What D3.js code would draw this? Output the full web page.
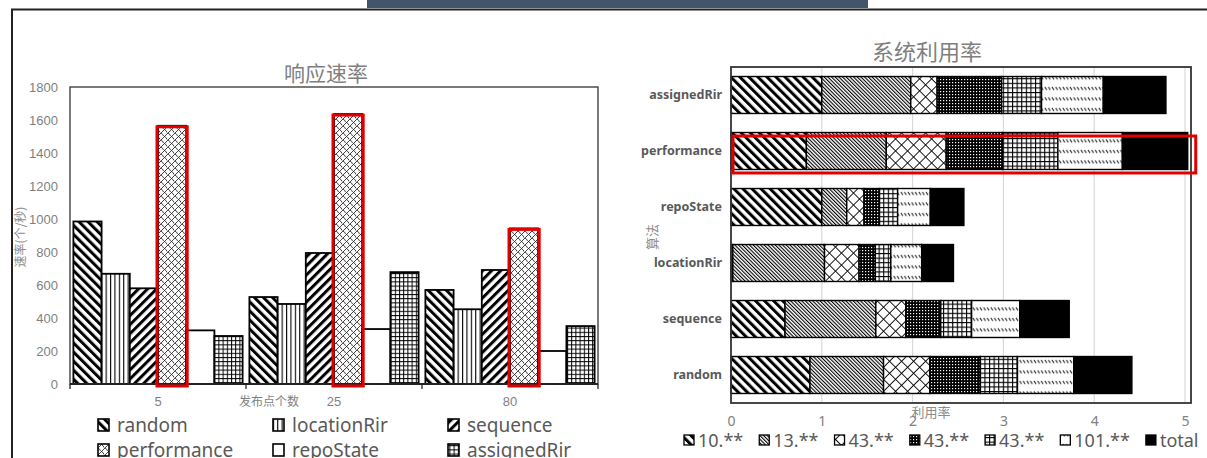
<!DOCTYPE html>
<html lang="zh">
<head>
<meta charset="UTF-8">
<title>响应速率 / 系统利用率</title>
<script src="https://d3js.org/d3.v7.min.js"></script>
<style>
  body { margin: 0; background: #fff; }
  svg { display: block; }
  text { font-family: "Noto Sans", "Noto Sans CJK SC", sans-serif; }
  .cjk { font-family: "Noto Sans CJK SC", sans-serif; }
</style>
</head>
<body>
<svg id="chart" width="1207" height="458"></svg>
<script>
// ---- left chart: 响应速率 ----
const rateGroups = ["5", "25", "80"];
const rateAlgos = ["random", "locationRir", "sequence", "performance", "repoState", "assignedRir"];
const randomRate = [985, 527, 570];
const locationRirRate = [668, 485, 453];
const sequenceRate = [580, 794, 691];
const performanceRate = [1565, 1636, 943];
const repoStateRate = [325, 333, 200];
const assignedRirRate = [291, 678, 351];
const rateTicks = [0, 200, 400, 600, 800, 1000, 1200, 1400, 1600, 1800];

// ---- right chart: 系统利用率 ----
const utilAlgos = ["assignedRir", "performance", "repoState", "locationRir", "sequence", "random"];
const utilSeries = ["10.**", "13.**", "43.**", "43.**", "43.**", "101.**", "total"];
const util10 = [1.00, 0.83, 1.00, 0.02, 0.595, 0.87];
const util13 = [0.98, 0.88, 0.275, 1.01, 1.00, 0.81];
const util43a = [0.29, 0.66, 0.19, 0.38, 0.33, 0.51];
const util43b = [0.71, 0.62, 0.17, 0.18, 0.385, 0.555];
const util43c = [0.44, 0.61, 0.20, 0.17, 0.34, 0.41];
const util101 = [0.68, 0.71, 0.36, 0.34, 0.53, 0.62];
const utilTotal = [0.69, 0.72, 0.37, 0.35, 0.545, 0.64];
const utilTicks = [0, 1, 2, 3, 4, 5];

const svg = d3.select("#chart");
const defs = svg.append("defs");

function stripes(id, angle, period, w) {
  const p = defs.append("pattern").attr("id", id)
    .attr("patternUnits", "userSpaceOnUse")
    .attr("width", period).attr("height", period)
    .attr("patternTransform", `rotate(${angle})`);
  p.append("rect").attr("width", period).attr("height", period).attr("fill", "#fff");
  p.append("rect").attr("width", w).attr("height", period).attr("fill", "#000");
}
function grid(id, period, w, angle) {
  const p = defs.append("pattern").attr("id", id)
    .attr("patternUnits", "userSpaceOnUse")
    .attr("width", period).attr("height", period)
    .attr("patternTransform", `rotate(${angle || 0})`);
  p.append("rect").attr("width", period).attr("height", period).attr("fill", "#fff");
  p.append("rect").attr("width", w).attr("height", period).attr("fill", "#000");
  p.append("rect").attr("width", period).attr("height", w).attr("fill", "#000");
}
function vlines(id, period, w) {
  const p = defs.append("pattern").attr("id", id)
    .attr("patternUnits", "userSpaceOnUse")
    .attr("width", period).attr("height", period);
  p.append("rect").attr("width", period).attr("height", period).attr("fill", "#fff");
  p.append("rect").attr("width", w).attr("height", period).attr("fill", "#000");
}

// left patterns
stripes("p-random", -45, 6.4, 3);
vlines("p-location", 4.4, 1.1);
stripes("p-sequence", 45, 6.4, 3);
(function () {
  const p = defs.append("pattern").attr("id", "p-perf")
    .attr("patternUnits", "userSpaceOnUse").attr("width", 7).attr("height", 7);
  p.append("rect").attr("width", 7).attr("height", 7).attr("fill", "#fff");
  p.append("path").attr("d", "M0,7 L7,0 M0,0 Q2,1 2.5,3 M3.5,3.5 Q5.5,4.5 6,6.5")
    .attr("stroke", "#111").attr("stroke-width", 0.8).attr("fill", "none");
})();
defs.append("pattern").attr("id", "p-repo").attr("patternUnits", "userSpaceOnUse")
  .attr("width", 4).attr("height", 4)
  .append("rect").attr("width", 4).attr("height", 4).attr("fill", "#fff");
grid("p-assigned", 4.2, 1);

// right patterns
stripes("u-10", -45, 6.4, 3);
stripes("u-13", -45, 2.6, 1.1);
grid("u-43a", 8.5, 0.9, 45);
(function () {
  const p = defs.append("pattern").attr("id", "u-43b")
    .attr("patternUnits", "userSpaceOnUse").attr("width", 3).attr("height", 3);
  p.append("rect").attr("width", 3).attr("height", 3).attr("fill", "#000");
  p.append("rect").attr("x", 1).attr("y", 1).attr("width", 1.2).attr("height", 1.2).attr("fill", "#fff");
})();
grid("u-43c", 4.6, 1.1);
(function () {
  const p = defs.append("pattern").attr("id", "u-101")
    .attr("patternUnits", "userSpaceOnUse").attr("width", 3.6).attr("height", 10.5);
  p.append("rect").attr("width", 3.6).attr("height", 10.5).attr("fill", "#fff");
  p.append("path").attr("d", "M0.8,3 L2.8,6").attr("stroke", "#111").attr("stroke-width", 1);
})();
defs.append("pattern").attr("id", "u-total").attr("patternUnits", "userSpaceOnUse")
  .attr("width", 4).attr("height", 4)
  .append("rect").attr("width", 4).attr("height", 4).attr("fill", "#000");

const ratePatterns = ["p-random", "p-location", "p-sequence", "p-perf", "p-repo", "p-assigned"];
const utilPatterns = ["u-10", "u-13", "u-43a", "u-43b", "u-43c", "u-101", "u-total"];

// frame and top band
svg.append("path").attr("d", "M12,458 V9.5 H1207")
  .attr("fill", "none").attr("stroke", "#222").attr("stroke-width", 2);
svg.append("rect").attr("x", 367).attr("y", 0).attr("width", 501).attr("height", 8)
  .attr("fill", "#44546a");

// ================= left chart =================
const L = { left: 70, right: 598, top: 87, bottom: 384 };
const rateSeries = [randomRate, locationRirRate, sequenceRate, performanceRate, repoStateRate, assignedRirRate];

const x0 = d3.scaleBand().domain(rateGroups).range([L.left, L.right]);
const x1 = d3.scaleBand().domain(rateAlgos).range([0, x0.bandwidth()]).paddingOuter(0.12);
const y = d3.scaleLinear().domain([0, 1800]).range([L.bottom, L.top]);

svg.append("text").attr("class", "cjk")
  .attr("x", 326).attr("y", 74).attr("dy", "0.35em")
  .attr("text-anchor", "middle").attr("font-size", 21).attr("fill", "#7f7f7f")
  .text("响应速率");

svg.append("rect")
  .attr("x", L.left).attr("y", L.top)
  .attr("width", L.right - L.left).attr("height", L.bottom - L.top)
  .attr("fill", "none").attr("stroke", "#333").attr("stroke-width", 1.3);

const yAxis = svg.append("g")
  .attr("transform", `translate(${L.left},0)`)
  .call(d3.axisLeft(y).tickValues(rateTicks).tickFormat(d3.format("d")).tickSize(0).tickPadding(12));
yAxis.select(".domain").remove();
yAxis.selectAll("text").attr("font-size", 13).attr("fill", "#7f7f7f")
  .style("font-family", "Liberation Sans, Arial, sans-serif");

const rateData = [];
rateGroups.forEach((g, i) => {
  rateAlgos.forEach((a, k) => {
    rateData.push({ group: g, algo: a, k: k, value: rateSeries[k][i] });
  });
});

svg.append("g").selectAll("rect")
  .data(rateData)
  .enter()
  .append("rect")
  .attr("x", d => x0(d.group) + x1(d.algo))
  .attr("y", d => y(d.value))
  .attr("width", x1.bandwidth())
  .attr("height", d => y(0) - y(d.value))
  .attr("fill", d => `url(#${ratePatterns[d.k]})`)
  .attr("stroke", "#000")
  .attr("stroke-width", 1.8);

// x axis
svg.append("line")
  .attr("x1", L.left).attr("x2", L.right).attr("y1", L.bottom).attr("y2", L.bottom)
  .attr("stroke", "#222").attr("stroke-width", 1.8);
const bounds = rateGroups.map(g => x0(g)).concat([L.right]);
svg.append("g").selectAll("line")
  .data(bounds)
  .enter()
  .append("line")
  .attr("x1", d => d).attr("x2", d => d)
  .attr("y1", L.bottom).attr("y2", L.bottom + 5)
  .attr("stroke", "#222").attr("stroke-width", 1.3);
const xAxis = svg.append("g")
  .attr("transform", `translate(0,${L.bottom})`)
  .call(d3.axisBottom(x0).tickSize(0).tickPadding(13));
xAxis.select(".domain").remove();
xAxis.selectAll("text").attr("font-size", 13).attr("fill", "#7f7f7f")
  .style("font-family", "Liberation Sans, Arial, sans-serif");

svg.append("text").attr("class", "cjk")
  .attr("x", 269).attr("y", 402).attr("dy", "0.35em")
  .attr("text-anchor", "middle").attr("font-size", 12).attr("fill", "#7f7f7f")
  .text("发布点个数");
svg.append("text").attr("class", "cjk")
  .attr("transform", "translate(21,237) rotate(-90)").attr("dy", "0.35em")
  .attr("text-anchor", "middle").attr("font-size", 12).attr("fill", "#8c8c8c")
  .text("速率(个/秒)");

// red highlight around performance bars
svg.append("g").selectAll("rect")
  .data(rateData.filter(d => d.algo === "performance"))
  .enter()
  .append("rect")
  .attr("x", d => x0(d.group) + x1(d.algo) - 1)
  .attr("y", d => y(d.value) + 1)
  .attr("width", x1.bandwidth() + 2)
  .attr("height", d => y(0) - y(d.value) + 1)
  .attr("fill", "none")
  .attr("stroke", "#e00000")
  .attr("stroke-width", 3);

// left legend (second row is cut by the bottom edge, as in the source)
const legL = svg.append("g");
rateAlgos.forEach((a, k) => {
  const col = k % 3, row = Math.floor(k / 3);
  const gx = 98 + col * 175, gy = 425 + row * 25;
  legL.append("rect")
    .attr("x", gx).attr("y", gy - 6).attr("width", 11).attr("height", 12)
    .attr("fill", `url(#${ratePatterns[k]})`)
    .attr("stroke", "#000").attr("stroke-width", 1.6);
  legL.append("text")
    .attr("x", gx + 19).attr("y", gy).attr("dy", "0.35em")
    .attr("font-size", 19).attr("fill", "#595959")
    .text(a);
});

// ================= right chart =================
const R = { left: 731, right: 1191, top: 67, bottom: 403 };
const utilCols = [util10, util13, util43a, util43b, util43c, util101, utilTotal];

const xu = d3.scaleLinear().domain([0, 5.066]).range([R.left, R.right]);
const yu = d3.scaleBand().domain(utilAlgos).range([R.top, R.bottom])
  .paddingInner(0.34).paddingOuter(0.17);

svg.append("text").attr("class", "cjk")
  .attr("x", 927).attr("y", 52).attr("dy", "0.35em")
  .attr("text-anchor", "middle").attr("font-size", 22).attr("fill", "#7f7f7f")
  .text("系统利用率");

svg.append("g").selectAll("line")
  .data(utilTicks.filter(t => t > 0))
  .enter()
  .append("line")
  .attr("x1", d => xu(d)).attr("x2", d => xu(d))
  .attr("y1", R.top).attr("y2", R.bottom)
  .attr("stroke", "#d9d9d9").attr("stroke-width", 1.2);

const utilRows = utilAlgos.map((a, i) => {
  const row = { algo: a };
  utilCols.forEach((c, k) => { row["s" + k] = c[i]; });
  return row;
});
const stackKeys = utilCols.map((c, k) => "s" + k);
const stacked = d3.stack().keys(stackKeys)(utilRows);

svg.append("g").selectAll("g")
  .data(stacked)
  .enter()
  .append("g")
  .attr("fill", (d, k) => `url(#${utilPatterns[k]})`)
  .selectAll("rect")
  .data(d => d)
  .enter()
  .append("rect")
  .attr("x", d => xu(d[0]))
  .attr("y", d => yu(d.data.algo))
  .attr("width", d => xu(d[1]) - xu(d[0]))
  .attr("height", yu.bandwidth())
  .attr("stroke", "#000")
  .attr("stroke-width", 1.4);

svg.append("rect")
  .attr("x", R.left).attr("y", R.top)
  .attr("width", R.right - R.left).attr("height", R.bottom - R.top)
  .attr("fill", "none").attr("stroke", "#333").attr("stroke-width", 1.8);

// red highlight around performance row
const perfTop = stacked[stacked.length - 1].find(d => d.data.algo === "performance");
svg.append("rect")
  .attr("x", xu(0) + 2)
  .attr("y", yu("performance") + 3.5)
  .attr("width", xu(perfTop[1]) + 6 - xu(0))
  .attr("height", yu.bandwidth())
  .attr("fill", "none")
  .attr("stroke", "#e00000")
  .attr("stroke-width", 3);

const yuAxis = svg.append("g")
  .attr("transform", `translate(${R.left},0)`)
  .call(d3.axisLeft(yu).tickSize(0).tickPadding(9));
yuAxis.select(".domain").remove();
yuAxis.selectAll("text").attr("font-size", 12.5).attr("font-weight", "bold").attr("fill", "#595959");

const xuAxis = svg.append("g")
  .attr("transform", `translate(0,${R.bottom})`)
  .call(d3.axisBottom(xu).tickValues(utilTicks).tickFormat(d3.format("d")).tickSize(0).tickPadding(13));
xuAxis.select(".domain").remove();
xuAxis.selectAll("text").attr("font-size", 14).attr("fill", "#7f7f7f");

svg.append("text").attr("class", "cjk")
  .attr("x", 931).attr("y", 412).attr("dy", "0.35em")
  .attr("text-anchor", "middle").attr("font-size", 13).attr("fill", "#8c8c8c")
  .text("利用率");
svg.append("text").attr("class", "cjk")
  .attr("transform", "translate(652,237) rotate(-90)").attr("dy", "0.35em")
  .attr("text-anchor", "middle").attr("font-size", 13).attr("fill", "#8c8c8c")
  .text("算法");

// right legend
const legR = svg.append("g");
let lx = 684;
utilSeries.forEach((s, k) => {
  legR.append("rect")
    .attr("x", lx).attr("y", 435).attr("width", 10).attr("height", 10)
    .attr("fill", `url(#${utilPatterns[k]})`)
    .attr("stroke", "#000").attr("stroke-width", 1.3);
  const t = legR.append("text")
    .attr("x", lx + 14).attr("y", 441).attr("dy", "0.35em")
    .attr("font-size", 18).attr("fill", "#595959")
    .text(s);
  lx += 14 + t.node().getComputedTextLength() + 16;
});
</script>
</body>
</html>
